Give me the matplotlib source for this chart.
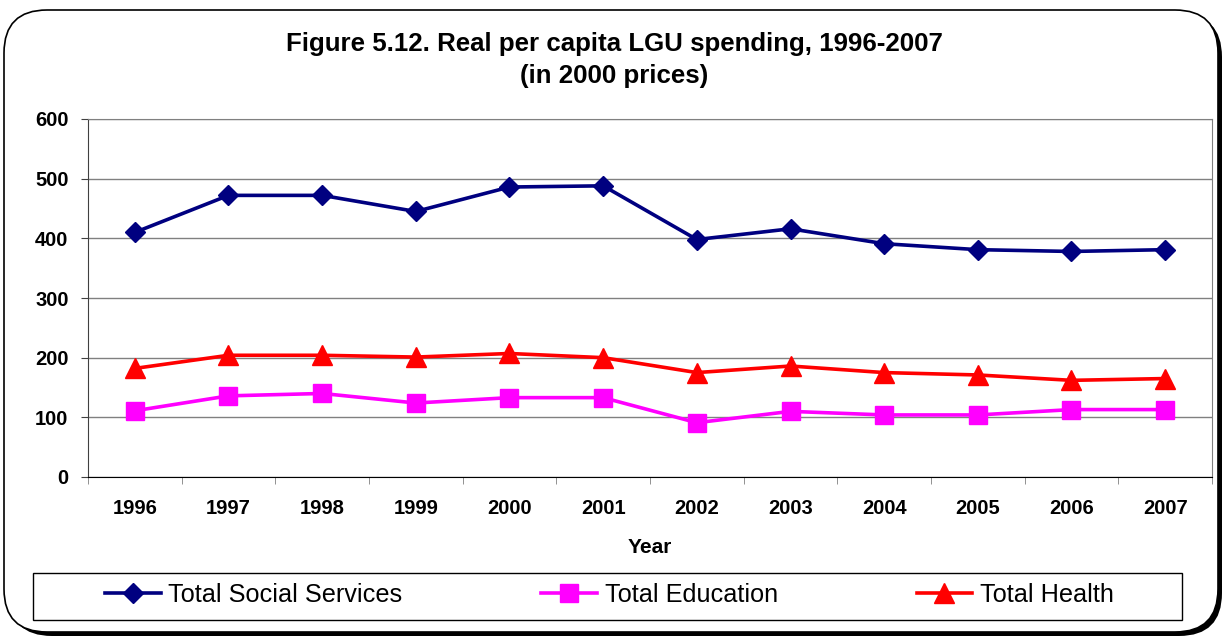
import numpy as np
import matplotlib
matplotlib.use("Agg")
import matplotlib.pyplot as plt
from matplotlib.patches import FancyBboxPatch, Rectangle

years = ["1996", "1997", "1998", "1999", "2000", "2001",
         "2002", "2003", "2004", "2005", "2006", "2007"]
social = [410, 472, 472, 445, 486, 488, 398, 416, 391, 381, 378, 381]
education = [111, 136, 140, 124, 133, 133, 91, 110, 104, 104, 113, 113]
health = [182, 204, 204, 201, 207, 200, 175, 186, 175, 171, 162, 165]

plt.rcParams["font.family"] = ["Liberation Sans", "DejaVu Sans"]

W, H = 1229, 637
fig = plt.figure(figsize=(W / 100, H / 100), dpi=100)

# rounded frame with shadow
shadow = FancyBboxPatch((9 / W, 1 - 636 / H), 1213 / W, 622 / H,
                        boxstyle="round,pad=0,rounding_size=0.035",
                        transform=fig.transFigure, facecolor="black",
                        edgecolor="black", linewidth=0, mutation_aspect=W / H,
                        zorder=-3)
fig.patches.append(shadow)
frame = FancyBboxPatch((4 / W, 1 - 632 / H), 1214 / W, 622 / H,
                       boxstyle="round,pad=0,rounding_size=0.035",
                       transform=fig.transFigure, facecolor="white",
                       edgecolor="black", linewidth=1.2, mutation_aspect=W / H,
                       zorder=-2)
fig.patches.append(frame)

ax = fig.add_axes([88 / W, 1 - 477 / H, 1124 / W, 358 / H])
ax.patch.set_alpha(0)
x = np.arange(len(years))

ax.plot(x, social, color="#000080", lw=2.6, marker="D", ms=10.5,
        label="Total Social Services")
ax.plot(x, education, color="#FF00FF", lw=2.6, marker="s", ms=13.5,
        label="Total Education")
ax.plot(x, health, color="#FF0000", lw=2.6, marker="^", ms=15,
        label="Total Health")

ax.set_xlim(-0.5, len(years) - 0.5)
ax.set_ylim(0, 600)
ax.set_yticks(range(0, 601, 100))
ax.yaxis.grid(True, color="#808080", lw=1)
ax.set_axisbelow(True)

ax.set_xticks(x)
ax.set_xticklabels(years, fontsize=14.5, fontweight="bold")
ax.set_xticks(np.arange(-0.5, len(years)), minor=True)
ax.tick_params(axis="x", which="major", length=0, pad=16)
ax.tick_params(axis="x", which="minor", length=5, color="#808080")
ax.tick_params(axis="y", length=5, color="#404040", pad=9, labelsize=14.5)
for lab in ax.get_yticklabels():
    lab.set_fontweight("bold")

ax.spines["left"].set_color("#404040")
ax.spines["bottom"].set_color("black")
ax.spines["top"].set_color("#808080")
ax.spines["right"].set_color("#808080")

ax.set_xlabel("Year", fontsize=15, fontweight="bold", labelpad=14)

fig.text(0.5, 1 - 44 / H, "Figure 5.12. Real per capita LGU spending, 1996-2007",
         ha="center", va="center", fontsize=18.6, fontweight="bold")
fig.text(0.5, 1 - 76 / H, "(in 2000 prices)",
         ha="center", va="center", fontsize=18.6, fontweight="bold")

# legend box
fig.patches.append(Rectangle((33 / W, 1 - 620 / H), 1149 / W, 47 / H,
                             transform=fig.transFigure, facecolor="white",
                             edgecolor="black", lw=1, zorder=-1))
leg = fig.legend(loc="center left", bbox_to_anchor=(105 / W, 1 - 595 / H),
                 bbox_transform=fig.transFigure, ncol=3, fontsize=18.2,
                 frameon=False, handlelength=2.2, handletextpad=0.3,
                 columnspacing=5.5, borderaxespad=0, borderpad=0)

fig.savefig("out.png", dpi=100)
